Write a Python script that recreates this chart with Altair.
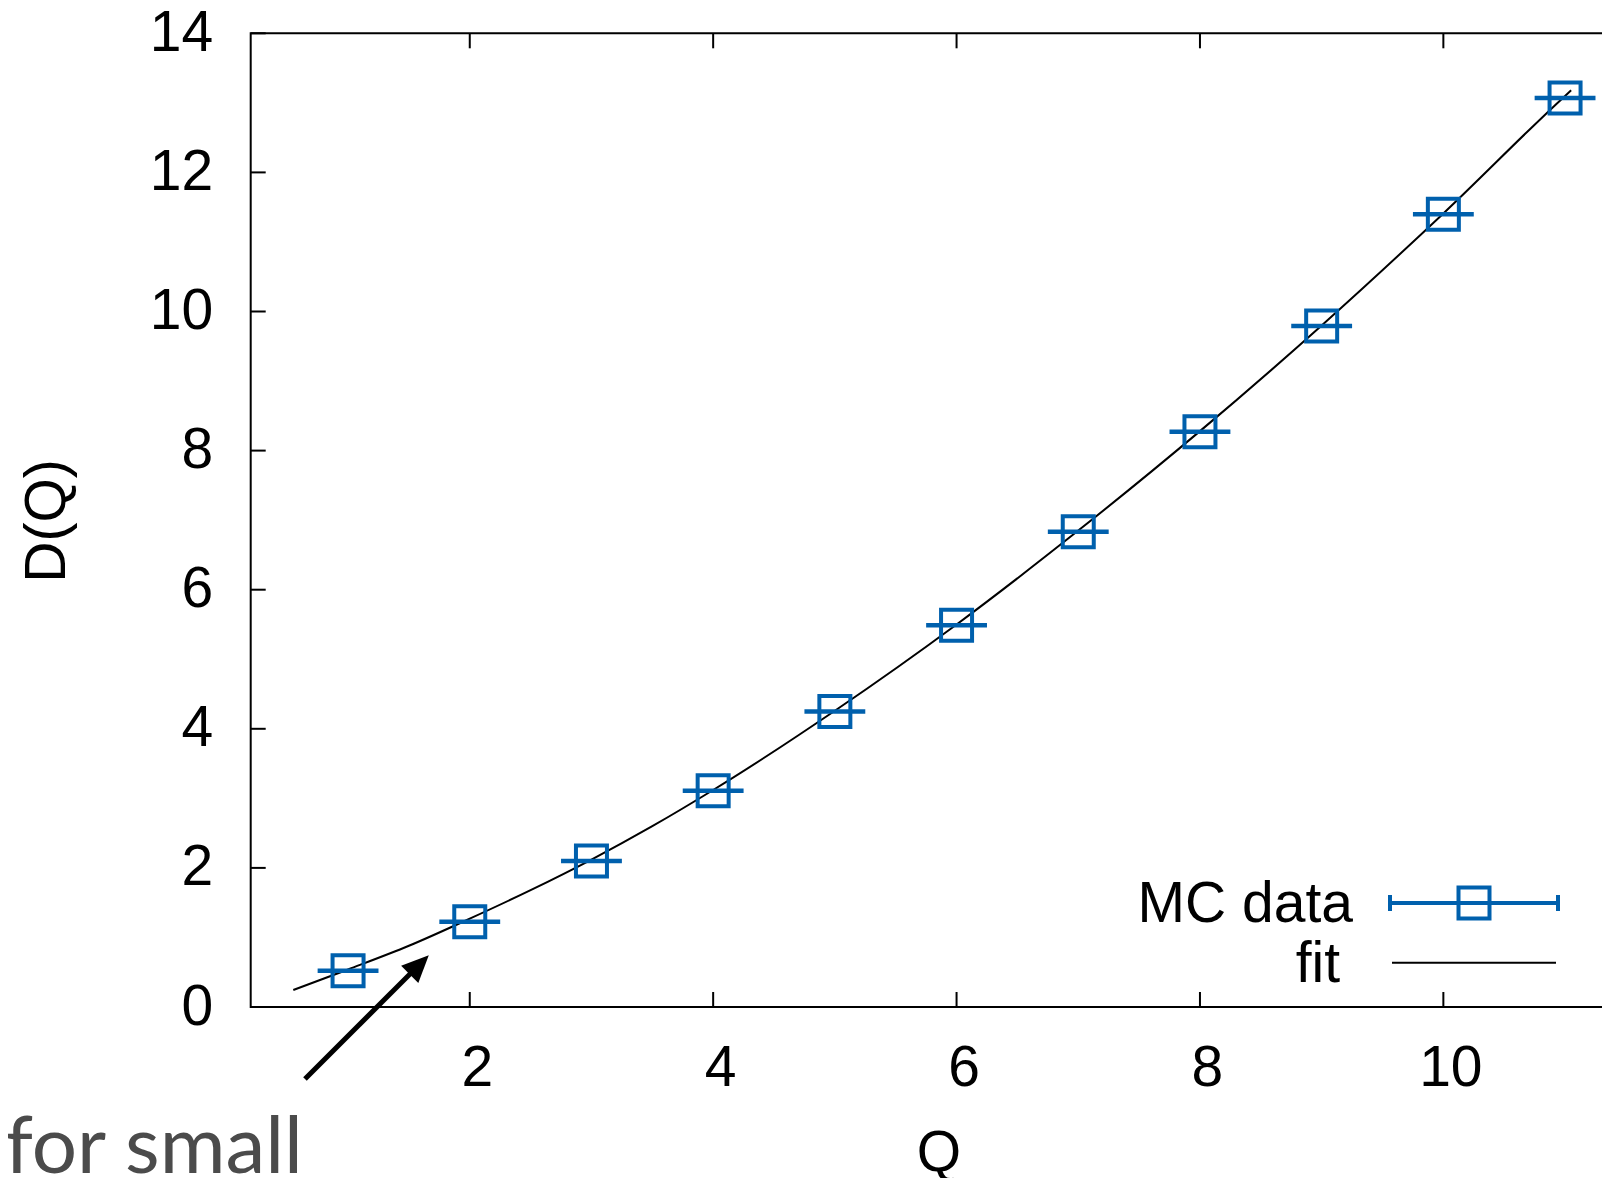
import altair as alt
import pandas as pd

# ---- data ----
Q = [1, 2, 3, 4, 5, 6, 7, 8, 9, 10, 11]
D = [0.52, 1.225, 2.10, 3.11, 4.25, 5.49, 6.835, 8.27, 9.79, 11.40, 13.07]
Q_ERR = [0.25, 0.25, 0.25, 0.25, 0.25, 0.25, 0.25, 0.25, 0.25, 0.25, 0.25]

FIT_Q = [0.55, 1.0, 1.5, 2.0, 2.5, 3.0, 3.5, 4.0, 5.0, 6.0, 7.0, 8.0, 9.0, 10.0, 11.0, 11.05]
FIT_D = [0.245, 0.54, 0.88, 1.27, 1.68, 2.12, 2.60, 3.12, 4.26, 5.50, 6.85, 8.28, 9.80, 11.41, 13.10, 13.18]

X_TICKS = [2, 4, 6, 8, 10]
Y_TICKS = [0, 2, 4, 6, 8, 10, 12, 14]

# annotation arrow (data space): tail, head
ARROW_Q = [0.646, 1.585]
ARROW_D = [-1.035, 0.607]

X_DOMAIN = [0.2, 11.5]
Y_DOMAIN = [0, 14]

BLUE = "#0060ad"
FONT = "Liberation Sans"
FS = 57

# ---- layout ----
PX_PER_X = 121.7
W = (X_DOMAIN[1] - X_DOMAIN[0]) * PX_PER_X
H = 973.7
PAD_L, PAD_T = 242.7, 25.3
PAD_R = 1594 - PAD_L - W
PAD_B = 1170 - PAD_T - H

pts = pd.DataFrame({"Q": Q, "D": D,
                    "lo": [q - e for q, e in zip(Q, Q_ERR)],
                    "hi": [q + e for q, e in zip(Q, Q_ERR)]})
fit = pd.DataFrame({"Q": FIT_Q, "D": FIT_D})
xt = pd.DataFrame({"v": X_TICKS})
yt = pd.DataFrame({"v": Y_TICKS})
arrow = pd.DataFrame({"Q": ARROW_Q, "D": ARROW_D, "o": [0, 1]})
one = pd.DataFrame({"a": [0]})

xs = alt.Scale(domain=X_DOMAIN, nice=False, zero=False)
ys = alt.Scale(domain=Y_DOMAIN, nice=False, zero=False)

xaxis = alt.Axis(values=X_TICKS, format="d", title=None, labelFont=FONT, labelFontSize=FS,
                 labelColor="black", labelPadding=33, labelOffset=7, ticks=False, domain=False,
                 grid=False, labelFlush=False)
yaxis = alt.Axis(values=Y_TICKS, format="d", title=None, labelFont=FONT, labelFontSize=FS,
                 labelColor="black", labelPadding=38, ticks=False, domain=False, grid=False,
                 labelFlush=False)

fit_line = alt.Chart(fit).mark_line(color="black", strokeWidth=2, interpolate="monotone").encode(
    x=alt.X("Q:Q", scale=xs, axis=xaxis),
    y=alt.Y("D:Q", scale=ys, axis=yaxis),
)

err = alt.Chart(pts).mark_rule(color=BLUE, strokeWidth=4.5).encode(
    x=alt.X("lo:Q", scale=xs), x2="hi:Q", y=alt.Y("D:Q", scale=ys)
)

squares = alt.Chart(pts).mark_point(shape="square", filled=False, size=961,
                                    strokeWidth=4, color=BLUE, opacity=1).encode(
    x=alt.X("Q:Q", scale=xs), y=alt.Y("D:Q", scale=ys)
)

TL = 15
xticks_b = alt.Chart(xt).mark_rule(color="black", strokeWidth=2).encode(
    x=alt.X("v:Q", scale=xs), y=alt.value(H), y2=alt.value(H - TL))
xticks_t = alt.Chart(xt).mark_rule(color="black", strokeWidth=2).encode(
    x=alt.X("v:Q", scale=xs), y=alt.value(0), y2=alt.value(TL))
yticks_l = alt.Chart(yt).mark_rule(color="black", strokeWidth=2).encode(
    y=alt.Y("v:Q", scale=ys), x=alt.value(0), x2=alt.value(TL))

arrow_shaft = alt.Chart(arrow).mark_line(color="black", strokeWidth=5).encode(
    x=alt.X("Q:Q", scale=xs), y=alt.Y("D:Q", scale=ys), order="o:Q")
arrow_head = alt.Chart(arrow[arrow.o == 1]).mark_point(
    shape="M0,-1L0.9,1L-0.9,1Z", filled=True, color="black", size=729, angle=45,
    opacity=1, strokeWidth=0).encode(
    x=alt.X("Q:Q", scale=xs), y=alt.Y("D:Q", scale=ys))

# legend (drawn manually)
LX0, LX1 = 1139.3, 1307.3
LY1, LY2 = 869.7, 929.4
leg_bar = alt.Chart(one).mark_rule(color=BLUE, strokeWidth=4).encode(
    x=alt.value(LX0), x2=alt.value(LX1), y=alt.value(LY1))
leg_cap0 = alt.Chart(one).mark_rule(color=BLUE, strokeWidth=4).encode(
    x=alt.value(LX0), y=alt.value(LY1 - 8), y2=alt.value(LY1 + 8))
leg_cap1 = alt.Chart(one).mark_rule(color=BLUE, strokeWidth=4).encode(
    x=alt.value(LX1), y=alt.value(LY1 - 8), y2=alt.value(LY1 + 8))
leg_sq = alt.Chart(one).mark_point(shape="square", filled=False, size=961, strokeWidth=4,
                                   color=BLUE, opacity=1).encode(
    x=alt.value((LX0 + LX1) / 2), y=alt.value(LY1))
leg_fit = alt.Chart(one).mark_rule(color="black", strokeWidth=2).encode(
    x=alt.value(LX0 + 2), x2=alt.value(LX1 - 2), y=alt.value(LY2))
leg_t1 = alt.Chart(one).mark_text(text="MC data", font=FONT, fontSize=FS, align="right",
                                  baseline="middle", color="black").encode(
    x=alt.value(1102.3), y=alt.value(LY1 + 2))
leg_t2 = alt.Chart(one).mark_text(text="fit", font=FONT, fontSize=FS, align="right",
                                  baseline="middle", color="black").encode(
    x=alt.value(1089.3), y=alt.value(LY2 + 2))

# titles and annotation text
ytitle = alt.Chart(one).mark_text(text="D(Q)", font=FONT, fontSize=FS, angle=270,
                                  align="center", baseline="alphabetic", color="black").encode(
    x=alt.value(65 - 8 - PAD_L), y=alt.value(521 - 8 - PAD_T))
xtitle = alt.Chart(one).mark_text(text="Q", font=FONT, fontSize=FS, align="center",
                                  baseline="alphabetic", color="black").encode(
    x=alt.value(939 - 8 - PAD_L), y=alt.value(1171 - 8 - PAD_T))
note = alt.Chart(one).mark_text(text="for small", font="Lato", fontSize=80, align="left",
                                baseline="alphabetic", color="#4b4b4b").encode(
    x=alt.value(5 - 8 - PAD_L), y=alt.value(1173 - 8 - PAD_T))

chart = alt.layer(
    fit_line, err, squares, xticks_b, xticks_t, yticks_l,
    arrow_shaft, arrow_head,
    leg_bar, leg_cap0, leg_cap1, leg_sq, leg_fit, leg_t1, leg_t2,
    ytitle, xtitle, note,
).properties(
    width=W, height=H,
    autosize=alt.AutoSizeParams(type="none"),
    padding={"left": PAD_L, "top": PAD_T, "right": PAD_R, "bottom": PAD_B},
    background="white",
).configure_view(stroke="black", strokeWidth=2)

chart.save("out.html", embed_options={"renderer": "svg", "actions": False})
